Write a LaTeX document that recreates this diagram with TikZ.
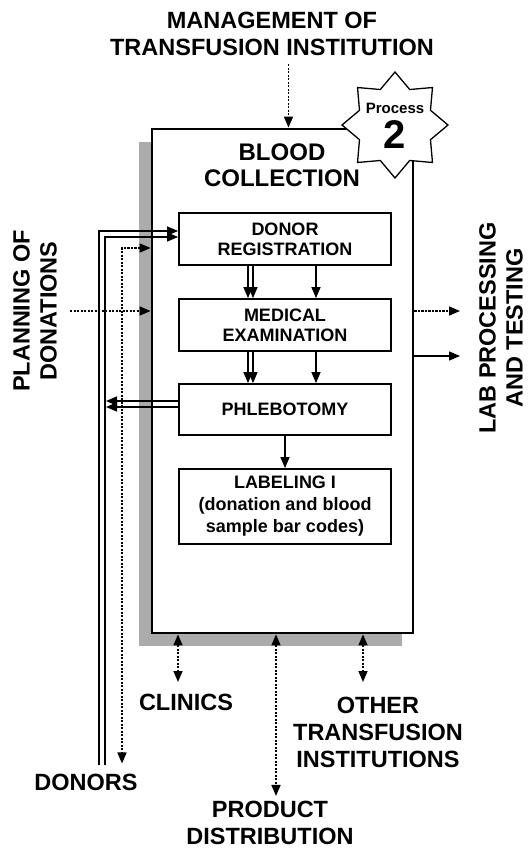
\documentclass[tikz,border=0pt]{standalone}
\usepackage{fontspec}
\setmainfont{Liberation Sans}
\usetikzlibrary{arrows.meta,shapes.geometric}
\begin{document}
\begin{tikzpicture}[x=1pt,y=-1pt,
  lbl/.style={font=\fontsize{23.5}{27}\selectfont\bfseries, align=center, inner sep=0pt},
  boxtxt/.style={font=\fontsize{18}{20}\selectfont\bfseries, align=center},
  inbox/.style={draw, line width=1.8pt, fill=white, minimum width=212pt, inner sep=0pt, boxtxt},
  arr/.style={line width=1.4pt, -{Triangle[length=11pt,width=9pt]}},
  dotline/.style={line width=1.6pt, dash pattern=on 2.2pt off 1.3pt},
  dotarr/.style={dotline, -{Triangle[length=11pt,width=9pt]}},
  dotboth/.style={dotline, {Triangle[length=11pt,width=9pt]}-{Triangle[length=11pt,width=9pt]}}
]
\useasboundingbox (0,0) rectangle (528,852);
% shadow and main box
\fill[black!33] (139,142) rectangle (402,646);
\node[draw, line width=2.8pt, fill=white, minimum width=261pt, minimum height=504pt, inner sep=0pt] (main) at (282.5,381) {};
% star
\node[star, star points=8, star point ratio=1.38, minimum size=106pt, inner sep=0pt, draw, line width=1.3pt, fill=white] (star) at (395,125) {};
\node[font=\fontsize{15}{15}\selectfont\bfseries, inner sep=0pt] (proc) at (395,108) {Process};
\node[font=\fontsize{40}{40}\selectfont\bfseries, inner sep=0pt] (two) at (395,135) {2};
% title
\node[font=\fontsize{24}{26}\selectfont\bfseries, align=center, inner sep=0pt] (title) at (282,165) {BLOOD\\COLLECTION};
% inner boxes
\node[inbox, minimum height=52pt] (donor) at (285,239) {DONOR\\REGISTRATION};
\node[inbox, minimum height=52pt] (med) at (285,325) {MEDICAL\\EXAMINATION};
\node[inbox, minimum height=51pt] (phleb) at (285,409.5) {PHLEBOTOMY};
\node[inbox, minimum height=75pt, font=\fontsize{18}{22}\selectfont\bfseries] (label) at (285,506.5) {LABELING I\\(donation and blood\\sample bar codes)};
% outer labels
\node[lbl] (mgmt) at (272,34) {MANAGEMENT OF\\TRANSFUSION INSTITUTION};
\node[lbl, rotate=90] (plan) at (35,311) {PLANNING OF\\DONATIONS};
\node[lbl, rotate=90] (lab) at (501,328) {LAB PROCESSING\\AND TESTING};
\node[lbl] (donors) at (86,782) {DONORS};
\node[lbl] (clinics) at (186,702) {CLINICS};
\node[lbl] (other) at (378,732) {OTHER\\TRANSFUSION\\INSTITUTIONS};
\node[lbl] (prod) at (270,823) {PRODUCT\\DISTRIBUTION};
% inner connectors
\foreach \dx in {-37,-32,31} {
  \draw[arr] ([xshift=\dx pt]donor.south) -- ([xshift=\dx pt]med.north);
  \draw[arr] ([xshift=\dx pt]med.south) -- ([xshift=\dx pt]phleb.north);
}
\draw[arr] (phleb.south) -- (label.north);
% top
\draw[dotarr] ([yshift=-8pt]mgmt.south -| main.north) ++(6,0) coordinate (mtop) -- (mtop |- main.north);
% left: donors double line
\draw[arr] ([yshift=8pt]donors.north -| 99,0) |- ([yshift=8pt]donor.west);
\draw[arr] ([yshift=8pt]donors.north -| 105,0) |- ([yshift=2pt]donor.west);
\draw[dotboth] (main.west |- 0,248) -| ([yshift=10pt]donors.north -| 122,0);
\coordinate (pl) at (70,311);
\draw[dotarr] (pl) -- (pl -| main.west);
\draw[arr] ([yshift=8.5pt]phleb.west) -- ([yshift=8.5pt]phleb.west -| 106,0);
\draw[arr] ([yshift=2.5pt]phleb.west) -- ([yshift=2.5pt]phleb.west -| 106,0);
% right
\coordinate (r1) at (460,311);
\coordinate (r2) at (460,356);
\draw[dotarr] (main.east |- r1) -- (r1);
\draw[arr] (main.east |- r2) -- (r2);
% bottom
\draw[dotboth] (main.south -| clinics.north) ++(-8,0) coordinate (c0) -- (c0 |- 0,682);
\draw[dotboth] (main.south -| other.north) ++(-15,0) coordinate (o0) -- (o0 |- 0,682);
\draw[dotboth] (main.south -| 276,0) -- ([yshift=5pt]prod.north -| 276,0);
\end{tikzpicture}
\end{document}
